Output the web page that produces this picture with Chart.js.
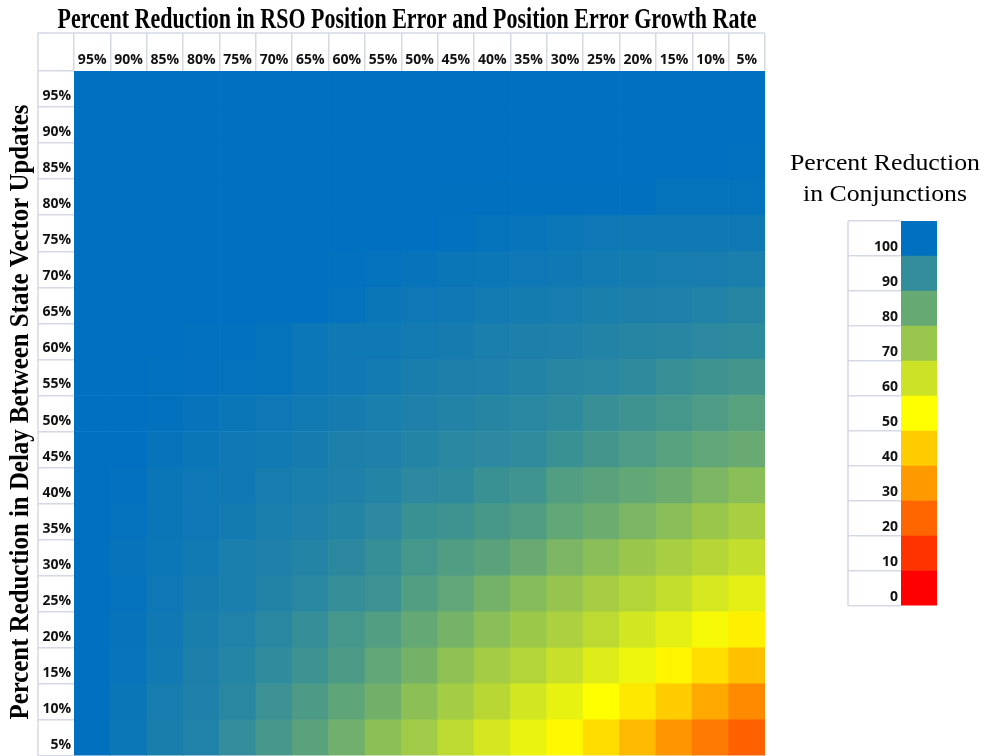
<!DOCTYPE html>
<html lang="en">
<head>
  <meta charset="UTF-8">
  <title>Percent Reduction in Conjunctions</title>
  <script src="https://cdn.jsdelivr.net/npm/chart.js"></script>
  <style>
    body {
      margin: 0;
      background: #fff;
      width: 989px;
      height: 756px;
      overflow: hidden;
      position: relative;
    }
    #heatmap { position: absolute; left: 0; top: 0; }
    #scale { position: absolute; left: 775px; top: 140px; }
  </style>
</head>
<body>
  <canvas id="heatmap" width="775" height="756"></canvas>
  <canvas id="scale" width="214" height="470"></canvas>

  <script>
    // columns: percent reduction in RSO position error and error growth rate
    const colLabels = ["95%", "90%", "85%", "80%", "75%", "70%", "65%", "60%", "55%", "50%",
                       "45%", "40%", "35%", "30%", "25%", "20%", "15%", "10%", "5%"];
    // rows: percent reduction in delay between state vector updates (top to bottom)
    const rowLabels = ["95%", "90%", "85%", "80%", "75%", "70%", "65%", "60%", "55%", "50%",
                       "45%", "40%", "35%", "30%", "25%", "20%", "15%", "10%", "5%"];

    // percent reduction in conjunctions, one array per row, columns left to right
    const r95 = [100, 100, 100, 100, 100, 100, 100, 100, 100, 100, 100, 100, 100, 100, 100, 100, 100, 100, 100];
    const r90 = [100, 100, 100, 100, 100, 100, 100, 100, 100, 100, 100, 100, 100, 100, 100, 100, 100, 100, 100];
    const r85 = [100, 100, 100, 100, 100, 100, 100, 100, 100, 100, 100, 100, 100, 100, 100, 100, 100, 100, 99.6];
    const r80 = [100, 100, 100, 100, 100, 100, 100, 100, 100, 100, 99.8, 99.8, 99.8, 99.8, 99.8, 99.8, 99, 99, 99];
    const r75 = [100, 100, 100, 100, 100, 100, 100, 100, 100, 100, 99.4, 99, 98.4, 97.8, 97.3, 97, 97, 97, 96.9];
    const r70 = [100, 100, 100, 100, 100, 100, 100, 99.6, 99.2, 98.8, 98, 97.6, 97.3, 97, 96.3, 95.9, 95.5, 95.3, 94.9];
    const r65 = [100, 100, 100, 100, 100, 100, 100, 99.2, 98, 97.3, 96.9, 96.3, 95.9, 95.5, 94.7, 94.3, 93.9, 93.5, 92.5];
    const r60 = [100, 100, 100, 99.4, 99.4, 99, 97.8, 97, 97, 96.3, 95.7, 94.9, 94.5, 93.9, 93.3, 92.5, 92.2, 91.4, 91];
    const r55 = [100, 100, 99.6, 99.5, 99.3, 99, 97.6, 96.9, 96.3, 95, 94.5, 93.9, 93.3, 92.2, 91.8, 91, 89, 87.8, 86.7];
    const r50 = [100, 100, 99.4, 98.8, 98, 97.3, 96.5, 95.7, 94.9, 93.9, 93.3, 92.5, 91.8, 91, 89, 87.8, 86.3, 84.7, 82.7];
    const r45 = [100, 100, 98.8, 98, 96.9, 96.5, 95.7, 94.5, 93.9, 93, 92, 91.4, 90.6, 88.6, 86.7, 84.7, 83, 81.2, 79.6];
    const r40 = [100, 99.5, 98, 97.3, 96.9, 95.5, 94.9, 93.9, 93, 91.4, 91, 88.6, 87.5, 83.9, 82.4, 80.8, 78.8, 75.7, 72.9];
    const r35 = [100, 99.2, 98, 97.3, 96, 94.9, 93.9, 93, 91.4, 88.6, 87.8, 85.9, 84.3, 80.8, 78.8, 75.7, 72.9, 69.8, 67];
    const r30 = [100, 98.8, 97.6, 96.5, 94.9, 94, 93, 91.5, 89.4, 86.5, 84.3, 82.4, 79.6, 75.7, 72.9, 69.8, 67, 64.3, 61.6];
    const r25 = [100, 99.2, 97.3, 95.7, 94.9, 93.3, 91.8, 89.6, 88.2, 84, 81.2, 77.3, 73.7, 70.6, 67.5, 64.7, 61.6, 58, 55.3];
    const r20 = [100, 98.8, 96.9, 95, 93.7, 91.8, 89.6, 86.3, 84, 80.5, 76.9, 72.9, 69.4, 66.3, 63.1, 58.8, 55.3, 51.8, 47];
    const r15 = [100, 98.6, 96.5, 94.5, 92.7, 90.6, 88, 85, 81, 77, 72, 67.8, 64.7, 60.8, 56.5, 53.3, 48, 43.5, 37.6];
    const r10 = [100, 98, 95.5, 94, 92, 88.5, 85, 81.5, 77.6, 72.5, 67.8, 63.9, 58.8, 54.5, 50, 45.5, 40, 32.9, 27];
    const r5  = [99.8, 97.6, 95, 93.7, 90, 86, 82.4, 78, 72.5, 68.6, 63.1, 58.4, 54.1, 48.6, 43.1, 36.5, 29.4, 24, 18.8];

    const rows = [r95, r90, r85, r80, r75, r70, r65, r60, r55, r50, r45, r40, r35, r30, r25, r20, r15, r10, r5];

    // colour key
    const keyValues = [0, 10, 20, 30, 40, 50, 60, 70, 80, 90, 100];

    const mainTitle = "Percent Reduction in RSO Position Error and Position Error Growth Rate";
    const yTitle = "Percent Reduction in Delay Between State Vector Updates";
    const keyTitle = ["Percent Reduction", "in Conjunctions"];

    const gridColor = "#D5D9E6";
    const labelFont = { family: "'Open Sans', sans-serif", size: 14, weight: "bold" };

    // Excel style 3 colour scale: red (0) -> yellow (50) -> blue (100)
    function scaleColor(v) {
      const stops = [[0, [255, 0, 0]], [50, [255, 255, 0]], [100, [0, 112, 192]]];
      let i = v <= 50 ? 0 : 1;
      const [v0, c0] = stops[i];
      const [v1, c1] = stops[i + 1];
      const t = Math.min(1, Math.max(0, (v - v0) / (v1 - v0)));
      const c = c0.map((a, k) => Math.round(a + (c1[k] - a) * t));
      return `rgb(${c[0]}, ${c[1]}, ${c[2]})`;
    }

    // outer lines of the label cells (left edge and header top)
    const cellLines = {
      id: "cellLines",
      afterDraw(chart, args, opts) {
        const { ctx, chartArea: a } = chart;
        const x0 = a.left - opts.left;
        const y0 = a.top - opts.top;
        ctx.save();
        ctx.strokeStyle = gridColor;
        ctx.lineWidth = 1.5;
        ctx.beginPath();
        ctx.moveTo(x0, a.bottom);
        ctx.lineTo(x0, y0);
        if (opts.top) ctx.lineTo(a.right, y0);
        ctx.stroke();
        ctx.restore();
      }
    };

    function drawSqueezed(ctx, text, x, y, width, angle) {
      const sx = width / ctx.measureText(text).width;
      ctx.save();
      ctx.translate(x, y);
      ctx.rotate(angle);
      ctx.scale(sx, 1);
      ctx.textAlign = "center";
      ctx.textBaseline = "alphabetic";
      ctx.fillText(text, 0, 0);
      ctx.restore();
    }

    // titles drawn at a fixed text width, like the condensed serif of the original
    const squeezedTitles = {
      id: "squeezedTitles",
      afterDraw(chart, args, opts) {
        const ctx = chart.ctx;
        ctx.save();
        ctx.fillStyle = "#000";
        opts.items.forEach(t => {
          ctx.font = t.font;
          drawSqueezed(ctx, t.text, t.x, t.y, t.width, t.angle || 0);
        });
        ctx.restore();
      }
    };

    // one stacked dataset per row, bottom row first
    const heatDatasets = rows.slice().reverse().map((vals, i) => ({
      label: rowLabels[rowLabels.length - 1 - i],
      data: vals.map(() => 1),
      backgroundColor: vals.map(scaleColor),
      borderWidth: 0,
      barPercentage: 1,
      categoryPercentage: 1
    }));

    new Chart(document.getElementById("heatmap"), {
      type: "bar",
      data: { labels: colLabels, datasets: heatDatasets },
      plugins: [cellLines, squeezedTitles],
      options: {
        responsive: false,
        animation: false,
        layout: { padding: { top: 33, left: 0, right: 10, bottom: 0 } },
        plugins: {
          legend: { display: false },
          tooltip: { enabled: false },
          cellLines: { left: 36, top: 38 },
          squeezedTitles: {
            items: [
              { text: mainTitle, font: "bold 29px 'Liberation Serif'", x: 407, y: 28, width: 699 },
              { text: yTitle, font: "bold 27px 'Liberation Serif'", x: 28, y: 412, width: 615, angle: -Math.PI / 2 }
            ]
          }
        },
        scales: {
          x: {
            position: "top",
            stacked: true,
            afterFit: (scale) => { scale.height = 38; },
            grid: { offset: true, drawOnChartArea: false, tickLength: 38, color: gridColor, lineWidth: 1.5 },
            border: { display: false },
            ticks: { font: labelFont, color: "#111", padding: -35, maxRotation: 0, autoSkip: false }
          },
          y: {
            stacked: true,
            min: 0,
            max: rows.length,
            afterFit: (scale) => { scale.width = 74; },
            afterBuildTicks: (scale) => {
              scale.ticks = rows.map((r, i) => ({ value: i })).concat([{ value: rows.length }]);
            },
            grid: { drawOnChartArea: false, tickLength: 36, color: gridColor, lineWidth: 1.5 },
            border: { display: false },
            ticks: {
              font: labelFont,
              color: "#111",
              padding: -33,
              labelOffset: -11,
              autoSkip: false,
              callback: (value) => value < rows.length ? rowLabels[rows.length - 1 - value] : ""
            }
          }
        }
      }
    });

    // colour key on the right
    const keyDatasets = keyValues.map(v => ({
      label: String(v),
      data: [1],
      backgroundColor: scaleColor(v),
      borderWidth: 0,
      barPercentage: 1,
      categoryPercentage: 1
    }));

    new Chart(document.getElementById("scale"), {
      type: "bar",
      data: { labels: [""], datasets: keyDatasets },
      plugins: [cellLines, squeezedTitles],
      options: {
        responsive: false,
        animation: false,
        layout: { padding: { top: 81, left: 60, right: 52, bottom: 4 } },
        plugins: {
          legend: { display: false },
          tooltip: { enabled: false },
          cellLines: { left: 53, top: 0 },
          squeezedTitles: {
            items: [
              { text: keyTitle[0], font: "24px 'Liberation Serif'", x: 110, y: 30, width: 190 },
              { text: keyTitle[1], font: "24px 'Liberation Serif'", x: 110, y: 61, width: 164 }
            ]
          }
        },
        scales: {
          x: { display: false, stacked: true },
          y: {
            stacked: true,
            min: 0,
            max: keyValues.length,
            afterFit: (scale) => { scale.width = 66; },
            afterBuildTicks: (scale) => {
              scale.ticks = keyValues.map((v, i) => ({ value: i })).concat([{ value: keyValues.length }]);
            },
            grid: { drawOnChartArea: false, tickLength: 53, color: gridColor, lineWidth: 1.5 },
            border: { display: false },
            ticks: {
              font: labelFont,
              color: "#111",
              padding: -50,
              labelOffset: -9,
              autoSkip: false,
              callback: (value) => value < keyValues.length ? String(keyValues[value]) : ""
            }
          }
        }
      }
    });
  </script>
</body>
</html>
